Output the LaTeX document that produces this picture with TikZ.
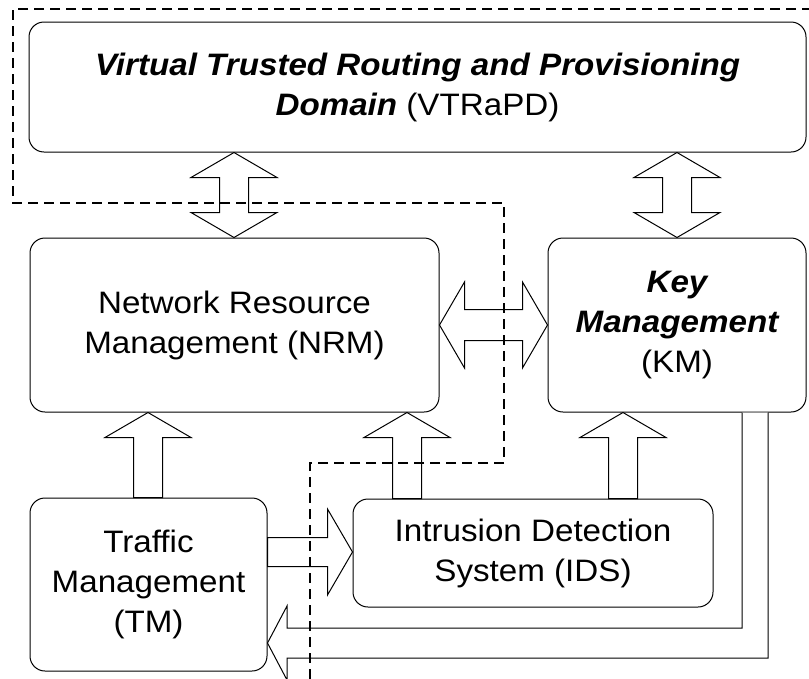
\documentclass[tikz,border=0pt]{standalone}
\usepackage{fontspec}
\setmainfont{Liberation Sans}[FakeStretch=1.07]
\usetikzlibrary{calc}
\newcommand\bfit[1]{{\bfseries\itshape #1}}
\tikzset{
  box/.style={draw, line width=1pt, rounded corners=15pt, fill=white, align=center,
    font=\fontsize{31}{40}\selectfont, inner sep=0pt},
  blk/.style={draw, line width=1pt, fill=white, line join=miter},
  dashline/.style={line width=2.6pt, dash pattern=on 10pt off 6pt},
}
% vertical double arrow: #1 top tip, #2 bottom tip
\newcommand\vdbl[2]{\draw[blk] let \p1=(#1), \p2=(#2) in
  (\p1) -- (\x1+43pt,\y1-25pt) -- (\x1+14.5pt,\y1-25pt) -- (\x1+14.5pt,\y2+25pt)
  -- (\x1+43pt,\y2+25pt) -- (\x1,\y2) -- (\x1-43pt,\y2+25pt) -- (\x1-14.5pt,\y2+25pt)
  -- (\x1-14.5pt,\y1-25pt) -- (\x1-43pt,\y1-25pt) -- cycle;}
% vertical single arrow up: #1 tip (top), #2 base (bottom)
\newcommand\vsgl[2]{\draw[blk] let \p1=(#1), \p2=(#2) in
  (\p1) -- (\x1+43pt,\y1-25pt) -- (\x1+14.5pt,\y1-25pt) -- (\x1+14.5pt,\y2)
  -- (\x1-14.5pt,\y2) -- (\x1-14.5pt,\y1-25pt) -- (\x1-43pt,\y1-25pt) -- cycle;}
% horizontal double arrow: #1 left tip, #2 right tip
\newcommand\hdbl[2]{\draw[blk] let \p1=(#1), \p2=(#2) in
  (\p1) -- (\x1+25pt,\y1+43pt) -- (\x1+25pt,\y1+15.5pt) -- (\x2-25pt,\y1+15.5pt)
  -- (\x2-25pt,\y1+43pt) -- (\x2,\y1) -- (\x2-25pt,\y1-43pt) -- (\x2-25pt,\y1-15.5pt)
  -- (\x1+25pt,\y1-15.5pt) -- (\x1+25pt,\y1-43pt) -- cycle;}
% horizontal single arrow right: #1 tail, #2 tip
\newcommand\hsgl[2]{\draw[blk] let \p1=(#1), \p2=(#2) in
  (\x1,\y1+14.5pt) -- (\x2-25pt,\y1+14.5pt) -- (\x2-25pt,\y1+43pt) -- (\x2,\y1)
  -- (\x2-25pt,\y1-43pt) -- (\x2-25pt,\y1-14.5pt) -- (\x1,\y1-14.5pt) -- cycle;}
\begin{document}
\begin{tikzpicture}[x=1pt,y=-1pt]
\path[use as bounding box, clip] (0,0) rectangle (809,678);
\fill[white] (0,0) rectangle (809,678);

\node[box, minimum width=777pt, minimum height=130pt] (vt) at (417.5,87)
  {\bfit{Virtual Trusted Routing and Provisioning}\\\bfit{Domain} (VTRaPD)};
\node[box, minimum width=409pt, minimum height=174pt] (nrm) at (234.5,325)
  {Network Resource\\Management (NRM)};
\node[box, minimum width=258pt, minimum height=174pt] (km) at (677,325)
  {\bfit{Key}\\\bfit{Management}\\(KM)};
\node[box, minimum width=237pt, minimum height=173pt] (tm) at (148.5,584.5)
  {Traffic\\Management\\(TM)};
\node[box, minimum width=360pt, minimum height=108pt] (ids) at (533,553)
  {Intrusion Detection\\System (IDS)};

\vdbl{234,0 |- vt.south}{234,0 |- nrm.north}
\vdbl{677,0 |- vt.south}{677,0 |- km.north}
\hdbl{nrm.east}{km.west}
\vsgl{148,0 |- nrm.south}{148,0 |- tm.north}
\vsgl{407,0 |- nrm.south}{407,0 |- ids.north}
\vsgl{623,0 |- km.south}{623,0 |- ids.north}
\hsgl{tm.east |- 0,552}{ids.west |- 0,552}
\draw[blk] (742,0 |- km.south) -- (742,628) -- (287,628) -- (287,606)
  -- (tm.east |- 0,643) -- (287,680) -- (287,658) -- (768,658) -- (768,0 |- km.south);

\draw[dashline] (812,9) -- (13,9) -- (13,203) -- (504,203) -- (504,463)
  -- (310,463) -- (310,690);
\end{tikzpicture}
\end{document}
